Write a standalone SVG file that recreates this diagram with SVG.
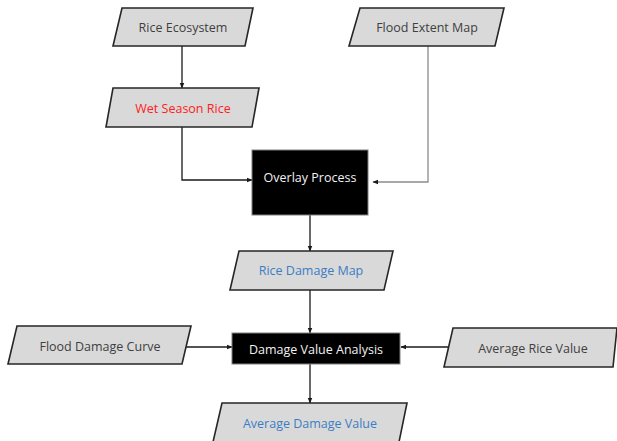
<svg xmlns="http://www.w3.org/2000/svg" width="617" height="441" viewBox="0 0 617 441">
<defs>
<style>
.io{fill:#d9d9d9;stroke:#262626;stroke-width:1.6}
.proc{fill:#000;stroke:#7f7f7f;stroke-width:1}
text{font-family:"Open Sans","Noto Sans",sans-serif;font-size:12.5px;text-anchor:middle;dominant-baseline:central}
.g{fill:#404040}
.r{fill:#ff2020}
.b{fill:#3b7dc4}
.w{fill:#f2f2f2}
.c{fill:none;stroke:#1a1a1a;stroke-width:1.3}
.cg{fill:none;stroke:#8c8c8c;stroke-width:1.3}
</style>
<marker id="ah" viewBox="0 0 10 10" refX="9" refY="5" markerWidth="6" markerHeight="6" orient="auto" markerUnits="userSpaceOnUse"><path d="M0,1 L10,5 L0,9 z" fill="#1a1a1a"/></marker>
<marker id="ahg" viewBox="0 0 10 10" refX="9" refY="5" markerWidth="6" markerHeight="6" orient="auto" markerUnits="userSpaceOnUse"><path d="M0,1 L10,5 L0,9 z" fill="#1a1a1a"/></marker>
</defs>
<rect width="617" height="441" fill="#fff"/>
<g id="connectors">
<path class="c" d="M182,46 V88" marker-end="url(#ah)"/>
<path class="c" d="M182,127 V180 H252" marker-end="url(#ah)"/>
<path class="cg" d="M428,46 V182 H373" marker-end="url(#ahg)"/>
<path class="c" d="M310,215 V251" marker-end="url(#ah)"/>
<path class="c" d="M310,290 V333" marker-end="url(#ah)"/>
<path class="c" d="M186,347 H232" marker-end="url(#ah)"/>
<path class="c" d="M448,347 H401" marker-end="url(#ah)"/>
<path class="c" d="M310,364 V403" marker-end="url(#ah)"/>
</g>
<g id="rice-ecosystem"><polygon class="io" points="122,8 253,8 245,46 113,46"/><text class="g" x="183" y="27">Rice Ecosystem</text></g>
<g id="flood-extent-map"><polygon class="io" points="360,8 504,8 495,46 349,46"/><text class="g" x="427" y="27">Flood Extent Map</text></g>
<g id="wet-season-rice"><polygon class="io" points="113,88 259,88 252,127 106,127"/><text class="r" x="183" y="108">Wet Season Rice</text></g>
<g id="overlay-process"><rect class="proc" x="252" y="150" width="116" height="65"/><text class="w" x="310" y="177">Overlay Process</text></g>
<g id="rice-damage-map"><polygon class="io" points="239,251 393,251 384,290 230,290"/><text class="b" x="311" y="270">Rice Damage Map</text></g>
<g id="flood-damage-curve"><polygon class="io" points="17,326 191,326 182,364 8,364"/><text class="g" x="100" y="346">Flood Damage Curve</text></g>
<g id="damage-value-analysis"><rect class="proc" x="232" y="333" width="168" height="31"/><text class="w" x="316" y="349">Damage Value Analysis</text></g>
<g id="average-rice-value"><polygon class="io" points="453,328 617,328 613,367 444,367"/><text class="g" x="533" y="348">Average Rice Value</text></g>
<g id="average-damage-value"><polygon class="io" points="222,403 407,403 399,442 213,442"/><text class="b" x="310" y="423">Average Damage Value</text></g>
</svg>
